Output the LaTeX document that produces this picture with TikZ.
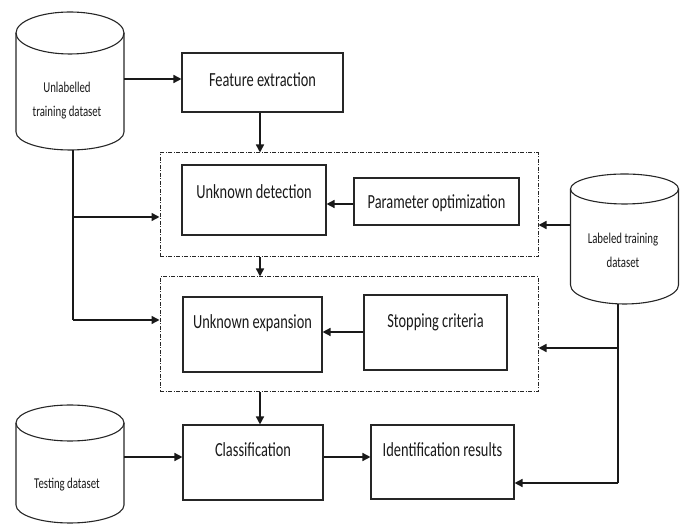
\documentclass[tikz,border=0pt]{standalone}
\usepackage{fontspec}
\usetikzlibrary{arrows.meta,calc}
\newfontfamily\boxfont[FakeStretch=0.72]{Carlito}
\newcommand\mycyl[5]{% cx, topY, sides-end Y, ry top, ry bottom
  \draw[cylline] ({#1-54},#2) -- ({#1-54},#3) arc[start angle=180,end angle=360,x radius=54,y radius=#5] -- ({#1+54},#2);
  \draw[cylline] (#1,#2) ellipse[x radius=54,y radius=#4];
}
\begin{document}
\begin{tikzpicture}[x=1pt,y=1pt,
  box/.style={draw=black!85, line width=1.1pt, inner sep=0pt},
  holder/.style={inner sep=0pt},
  grp/.style={draw=black!85, line width=1pt, inner sep=0pt, dash pattern=on 4pt off 1.5pt on 1pt off 1.5pt},
  cylline/.style={draw=black!85, line width=1.1pt},
  lbl/.style={font=\boxfont\fontsize{20}{24}\selectfont, inner sep=0pt, text=black!90},
  clbl/.style={font=\boxfont\fontsize{15}{18}\selectfont, inner sep=0pt, align=center, text=black!90},
  arr/.style={line width=1.5pt, draw=black!90, -{Triangle[length=8pt,width=8pt]}},
  ln/.style={line width=1.5pt, draw=black!90}]
\useasboundingbox (0,0) rectangle (684,526);
% cylinders
\mycyl{70}{493}{394}{21}{18}
\node[holder, minimum width=108pt, minimum height=138pt] (ul) at (70,445) {};
\node[clbl] (ult) at (67,425.5) {Unlabelled\\[6pt]training dataset};
\mycyl{624.5}{337}{241}{15}{19}
\node[holder, minimum width=108pt, minimum height=130pt] (lt) at (624.5,287) {};
\node[clbl] (ltt) at (623,276) {Labeled training\\[6pt]dataset};
\mycyl{70}{103}{21}{18}{18}
\node[holder, minimum width=108pt, minimum height=118pt] (ts) at (70,62) {};
\node[clbl] (tst) at (67,41) {Testing dataset};
% groups
\node[grp, minimum width=378pt, minimum height=104pt] (b1) at (349,321) {};
\node[grp, minimum width=378pt, minimum height=115pt] (b2) at (349,191.5) {};
% boxes
\node[box, minimum width=161pt, minimum height=59pt] (fe) at (262.5,443.5) {};
\node[lbl] (fet) at (262.5,446) {Feature extraction};
\node[box, minimum width=144pt, minimum height=70pt] (ud) at (254,326) {};
\node[lbl] (udt) at (254,334) {Unknown detection};
\node[box, minimum width=165pt, minimum height=47pt] (po) at (436.5,324.5) {};
\node[lbl] (pot) at (436.5,323) {Parameter optimization};
\node[box, minimum width=139pt, minimum height=75pt] (ue) at (252.5,191.5) {};
\node[lbl] (uet) at (252.5,203) {Unknown expansion};
\node[box, minimum width=143pt, minimum height=75pt] (sc) at (435.5,193.5) {};
\node[lbl] (sct) at (435.5,204) {Stopping criteria};
\node[box, minimum width=140pt, minimum height=75pt] (cl) at (253,63.5) {};
\node[lbl] (clt) at (253,76) {Classification};
\node[box, minimum width=143pt, minimum height=74pt] (id) at (442.5,64) {};
\node[lbl] (idt) at (442.5,76) {Identification results};
% helper coordinates
\coordinate (u1) at (73,309);
\coordinate (u2) at (73,206);
\coordinate (l1) at ([yshift=14pt]lt.west);
\coordinate (l2) at (618,178);
\coordinate (l3) at (618,43);
\coordinate (c1) at ([yshift=5.5pt]cl.west);
\coordinate (c2) at ([yshift=5.5pt]cl.east);
\coordinate (f1) at ([xshift=-2.5pt]fe.south);
\coordinate (s1) at ([yshift=0.5pt]sc.west);
% connectors
\draw[arr] ([yshift=3.5pt]fe.west -| ul.east) -- ([yshift=3.5pt]fe.west);
\draw[arr] (f1) -- (f1 |- b1.north);
\draw[ln] (ul.south -| u1) -- (u2);
\draw[arr] (u1) -- (u1 -| b1.west);
\draw[arr] (u2) -- (u2 -| b2.west);
\draw[arr] ([yshift=-2.5pt]po.west) -- ([yshift=-2.5pt]po.west -| ud.east);
\draw[arr] (l1) -- (l1 -| b1.east);
\draw[arr] (f1 |- b1.south) -- (f1 |- b2.north);
\draw[arr] (s1) -- (s1 -| ue.east);
\draw[arr] (f1 |- b2.south) -- (f1 |- cl.north);
\draw[ln] (lt.south -| l2) -- (l3);
\draw[arr] (l2) -- (l2 -| b2.east);
\draw[arr] (l3) -- (l3 -| id.east);
\draw[arr] (c1 -| ts.east) -- (c1);
\draw[arr] (c2) -- (c2 -| id.west);
\end{tikzpicture}
\end{document}
